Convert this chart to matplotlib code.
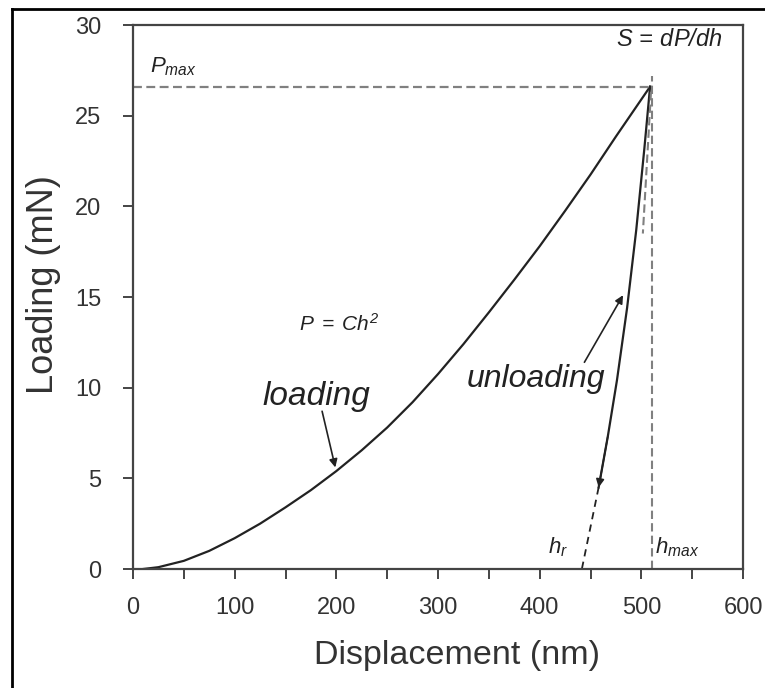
import matplotlib.pyplot as plt
from matplotlib.lines import Line2D

plt.rcParams['font.family'] = ['Liberation Sans', 'DejaVu Sans']
plt.rcParams['mathtext.fontset'] = 'custom'
plt.rcParams['mathtext.it'] = 'Liberation Sans:italic'
plt.rcParams['mathtext.rm'] = 'Liberation Sans:italic'

# loading branch (nm, mN)
load_h = [10, 25, 50, 75, 100, 125, 150, 175, 200, 225, 250, 275, 300, 325, 350,
          375, 400, 425, 450, 475, 508.6]
load_P = [0, 0.1, 0.45, 1.0, 1.7, 2.5, 3.4, 4.35, 5.4, 6.55, 7.8, 9.2, 10.75, 12.4, 14.15,
          15.95, 17.8, 19.75, 21.75, 23.85, 26.6]

# unloading branch
unload_h = [508.6, 503, 495, 486, 476, 467, 458]
unload_P = [26.6, 23.2, 18.7, 14.4, 10.4, 7.3, 4.5]

# extrapolation of unloading to zero load, tangent at peak
extrap_h = [458, 441.5]
extrap_P = [4.5, 0.0]
tangent_h = [509.5, 501.5]
tangent_P = [26.3, 18.5]

h_max = 510
P_max = 26.6

x_ticks = [0, 100, 200, 300, 400, 500, 600]
y_ticks = [0, 5, 10, 15, 20, 25, 30]

ink = '#222222'
grey = '#808080'

fig = plt.figure(figsize=(7.65, 6.88), dpi=100)
ax = fig.add_axes([133 / 765, 119 / 688, 610 / 765, 544 / 688])

ax.plot(load_h, load_P, color=ink, lw=1.6)
ax.plot(unload_h, unload_P, color=ink, lw=1.6)
ax.plot(extrap_h, extrap_P, color=ink, lw=1.3, ls=(0, (4, 3)))
ax.plot(tangent_h, tangent_P, color=grey, lw=1.5, ls=(0, (4, 2)))

ax.plot([0, h_max], [P_max, P_max], color=grey, lw=1.6, ls=(0, (4, 2)))
ax.plot([h_max, h_max], [0, 27.2], color=grey, lw=1.5, ls=(0, (4, 2)))

# direction arrowhead on unloading
ax.annotate('', xy=(unload_h[-1], unload_P[-1]), xytext=(unload_h[-2], unload_P[-2]),
            arrowprops=dict(arrowstyle='-|>', color=ink, lw=1.2, mutation_scale=12,
                            shrinkA=0, shrinkB=0))

ax.annotate('', xy=(199, 5.6), xytext=(186, 8.7),
            arrowprops=dict(arrowstyle='-|>', color=ink, lw=1.2, mutation_scale=12,
                            shrinkA=0, shrinkB=0))
ax.annotate('', xy=(482, 15.1), xytext=(444, 11.4),
            arrowprops=dict(arrowstyle='-|>', color=ink, lw=1.2, mutation_scale=12,
                            shrinkA=0, shrinkB=0))

ax.text(180, 9.5, 'loading', fontsize=24, style='italic', color=ink, ha='center', va='center')
ax.text(396, 10.5, 'unloading', fontsize=23, style='italic', color=ink, ha='center', va='center')
ax.text(203, 13.5, r'$P\;=\;Ch^2$', fontsize=15, color=ink, ha='center', va='center')
ax.text(17, 27.7, r'$P_{max}$', fontsize=16, color=ink, ha='left', va='center')
ax.text(580, 29.2, r'$S\,=\,dP/dh$', fontsize=17, color=ink, ha='right', va='center')
ax.text(418, 1.2, r'$h_r$', fontsize=16, color=ink, ha='center', va='center')
ax.text(513, 1.2, r'$h_{max}$', fontsize=16, color=ink, ha='left', va='center')

ax.set_xlim(0, 600)
ax.set_ylim(0, 30)
ax.set_xticks(x_ticks)
ax.set_xticks([50, 150, 250, 350, 450, 550], minor=True)
ax.set_yticks(y_ticks)
ax.tick_params(which='both', direction='out', length=7, width=1.4, colors='#444444',
               labelsize=17, labelcolor='#333333')
ax.tick_params(axis='x', pad=13)
ax.tick_params(axis='y', pad=16)
for s in ax.spines.values():
    s.set_color('#444444')
    s.set_linewidth(1.6)

ax.set_xlabel('Displacement (nm)', fontsize=24.5, color='#333333')
ax.set_ylabel('Loading (mN)', fontsize=26, color='#333333')
ax.xaxis.set_label_coords(0.531, -0.13)
ax.yaxis.set_label_coords(-0.118, 0.522)

# outer frame of the picture
fig.add_artist(Line2D([12 / 765, 12 / 765], [0, 1 - 9 / 688], color='black', lw=2, transform=fig.transFigure))
fig.add_artist(Line2D([12 / 765, 1], [1 - 9 / 688, 1 - 9 / 688], color='black', lw=2, transform=fig.transFigure))

fig.savefig('out.png', dpi=100)
